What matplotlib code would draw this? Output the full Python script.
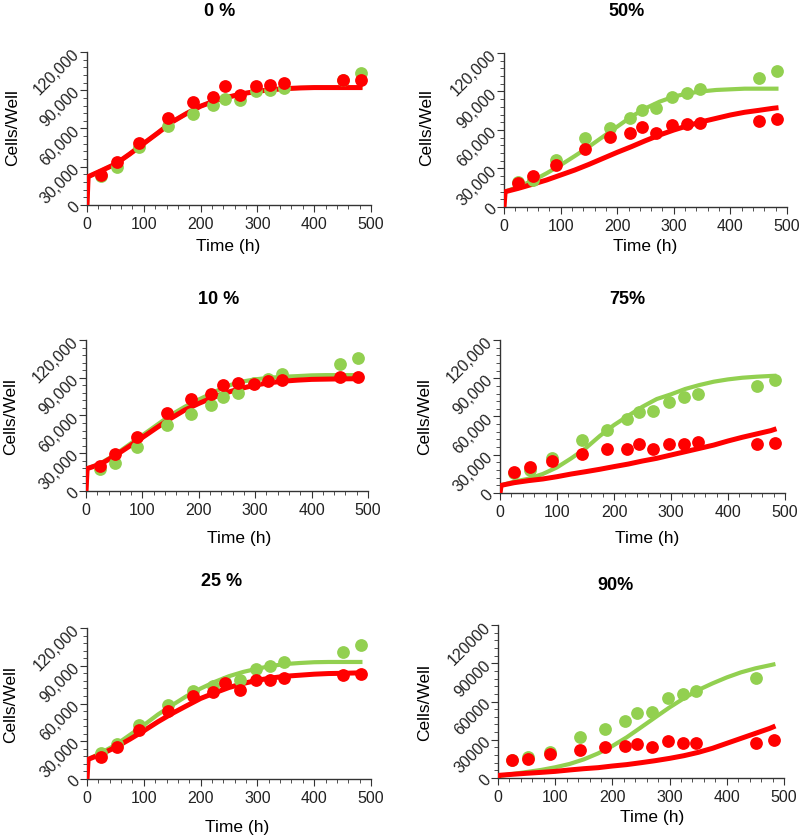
import numpy as np
import matplotlib
matplotlib.use("Agg")
import matplotlib.pyplot as plt
from matplotlib.ticker import MultipleLocator, FuncFormatter

plt.rcParams['font.family'] = ['Liberation Sans', 'DejaVu Sans']

# measurement times (h)
times = [24, 52, 91, 143, 187, 222, 243, 269, 297, 323, 347, 451, 482]
# model curve times (h)
fit_times = [0, 2, 25, 50, 75, 100, 125, 150, 175, 200, 225, 250, 275,
             300, 325, 350, 375, 400, 425, 450, 475, 485]

titles = ['0 %', '50%', '10 %', '75%', '25 %', '90%']

green_pts = {
    '0 %': [23000, 30000, 45500, 62000, 71000, 78500, 83500, 82000, 89500, 90500, 92000, 98000, 103500],
    '10 %': [17800, 22300, 35000, 52300, 61100, 68200, 74900, 77500, 86000, 88900, 92700, 100600, 105900],
    '25 %': [20900, 27500, 42800, 59200, 70000, 74000, 77000, 79000, 87700, 89600, 93000, 101000, 106200],
    '50%': [19600, 21000, 36500, 53500, 61800, 69700, 75700, 77000, 85600, 88700, 91800, 100400, 105700],
    '75%': [15700, 18300, 27400, 41200, 49600, 57900, 63400, 64400, 71700, 75100, 77500, 84000, 89000],
    '90%': [13800, 16200, 20100, 31800, 38600, 44900, 50900, 51700, 63100, 66000, 68400, 78800, np.nan],
}
red_pts = {
    '0 %': [23500, 33500, 49000, 68500, 80500, 84500, 93000, 86500, 93500, 94500, 95500, 98000, 98000],
    '10 %': [19600, 29200, 43000, 61600, 73500, 76700, 84200, 86000, 85000, 87300, 88100, 90300, 90800],
    '25 %': [17700, 25600, 38900, 54200, 65800, 69200, 76400, 71100, 78500, 79000, 80600, 82500, 83300],
    '50%': [18800, 24300, 33100, 44900, 54300, 57400, 62600, 57900, 63900, 64700, 65200, 67300, 68300],
    '75%': [16400, 20100, 25300, 30800, 34400, 34400, 38600, 34400, 38600, 38600, 39700, 38600, 39100],
    '90%': [14300, 15100, 18800, 22200, 24300, 25300, 26900, 24300, 28700, 27400, 27400, 27400, 30000],
}
green_fit = {
    '0 %': [0, 22200, 26900, 32100, 39900, 48300, 56600, 65200, 71700, 77500, 81700, 84800, 87400,
            89200, 90500, 91300, 91800, 92100, 92100, 92100, 92100, 92100],
    '10 %': [0, 17800, 21800, 28400, 36400, 44300, 52300, 60300, 66900, 72700, 78100, 83400, 86800,
             88700, 90000, 90800, 91300, 91900, 92100, 92100, 92100, 92100],
    '25 %': [0, 15600, 20900, 27000, 34900, 42800, 51300, 58700, 65800, 71900, 77200, 81700, 85100,
             87700, 89900, 91400, 92200, 92800, 93000, 93000, 93000, 93000],
    '50%': [0, 11900, 15800, 20300, 26200, 32700, 39700, 47000, 54800, 62600, 70400, 76900, 82100,
            86000, 88600, 90100, 91200, 91700, 92200, 92200, 92200, 92200],
    '75%': [0, 6000, 8900, 11200, 14900, 20100, 27200, 35000, 44700, 53300, 60600, 67700, 73700,
            77400, 81600, 84700, 87300, 89100, 90400, 91200, 91800, 92000],
    '90%': [0, 1600, 3100, 4700, 6300, 8400, 11000, 14600, 19300, 25100, 31900, 39700, 47600,
            55400, 62500, 69000, 74200, 78900, 82900, 86000, 88400, 89400],
}
red_fit = {
    '0 %': [0, 22200, 26900, 32100, 39900, 48300, 56600, 65200, 71700, 77500, 81700, 84800, 87400,
            89200, 90500, 91300, 91800, 92100, 92100, 92100, 92100, 92100],
    '10 %': [0, 17800, 21200, 27600, 35000, 42500, 50200, 57600, 64300, 69600, 74300, 78300, 81500,
             84200, 86000, 87300, 88100, 88700, 88900, 89100, 89200, 89200],
    '25 %': [0, 15600, 19800, 25100, 31500, 38300, 45500, 52100, 58100, 64000, 68500, 72700, 75900,
             78500, 80300, 81700, 82500, 83300, 83800, 84000, 84300, 84300],
    '50%': [0, 11900, 14500, 17700, 21000, 24900, 28800, 33200, 37900, 42600, 47000, 51700, 56100,
            60000, 63400, 66500, 69100, 71700, 73800, 75300, 76900, 77400],
    '75%': [0, 6000, 8100, 9700, 11000, 12800, 14900, 16700, 18600, 20700, 22700, 25100, 27200,
            29800, 32400, 35000, 37600, 40800, 43700, 46300, 48900, 50400],
    '90%': [0, 2100, 2900, 3700, 4400, 5200, 6300, 7300, 8100, 9400, 10500, 12000, 13600,
            15400, 17500, 20100, 23300, 27200, 31100, 35000, 38900, 40800],
}

GREEN = '#92D050'
RED = '#FF0000'
W, H = 800, 838

# pixel boxes of axes: left, top, right, bottom
boxes = {
    '0 %': (87, 52, 371, 205),
    '50%': (504, 53, 787, 207),
    '10 %': (86, 340, 368, 491),
    '75%': (500, 340, 785, 493),
    '25 %': (87, 628, 371, 779),
    '90%': (498, 625, 784, 778),
}
# title, xlabel, ylabel positions (pixels)
title_pos = {'0 %': (220, 12), '50%': (627, 12), '10 %': (219, 300),
             '75%': (627, 300), '25 %': (222, 582), '90%': (615, 585)}
xlab_pos = {'0 %': (228, 247), '50%': (645, 247), '10 %': (239, 538),
            '75%': (647, 538), '25 %': (237, 827), '90%': (652, 817)}
ylab_pos = {'0 %': (13, 128), '50%': (427, 128), '10 %': (11, 417),
            '75%': (425, 417), '25 %': (11, 705), '90%': (425, 703)}

fig = plt.figure(figsize=(W / 100, H / 100), dpi=100)

for name in titles:
    l, t, r, b = boxes[name]
    ax = fig.add_axes([l / W, 1 - b / H, (r - l) / W, (b - t) / H])

    ax.plot(fit_times, green_fit[name], color=GREEN, lw=3.0, zorder=2, solid_capstyle='butt')
    ax.plot(fit_times, red_fit[name], color=RED, lw=3.6, zorder=3, solid_capstyle='butt')
    ax.plot(times, green_pts[name], 'o', color=GREEN, ms=9.2, mec='none', zorder=4)
    ax.plot(times, red_pts[name], 'o', color=RED, ms=9.2, mec='none', zorder=5)

    ax.set_xlim(0, 500)
    ax.set_ylim(0, 120000)
    ax.xaxis.set_major_locator(MultipleLocator(100))
    ax.xaxis.set_minor_locator(MultipleLocator(20))
    ax.yaxis.set_major_locator(MultipleLocator(30000))
    ax.yaxis.set_minor_locator(MultipleLocator(6000))
    if name == '90%':
        ax.yaxis.set_major_formatter(FuncFormatter(lambda v, p: '%d' % v))
    else:
        ax.yaxis.set_major_formatter(FuncFormatter(lambda v, p: '{:,.0f}'.format(v)))

    for s in ['top', 'right']:
        ax.spines[s].set_visible(False)
    for s in ['left', 'bottom']:
        ax.spines[s].set_color('#333333')
        ax.spines[s].set_linewidth(1.0)

    ax.tick_params(axis='both', which='major', direction='out', length=5,
                   color='#333333', labelsize=11.5, labelcolor='#222222')
    ax.tick_params(axis='both', which='minor', direction='out', length=3, color='#333333')
    ax.tick_params(axis='y', which='major', pad=2)
    for lab in ax.get_yticklabels():
        lab.set_rotation(45)
        lab.set_rotation_mode('anchor')
        lab.set_ha('right')
        lab.set_va('center')

    tx, ty = title_pos[name]
    fig.text(tx / W, 1 - ty / H, name, ha='center', va='center',
             fontsize=13, fontweight='bold')
    xx, xy = xlab_pos[name]
    fig.text(xx / W, 1 - xy / H, 'Time (h)', ha='center', va='center', fontsize=12.5)
    yx, yy = ylab_pos[name]
    fig.text(yx / W, 1 - yy / H, 'Cells/Well', ha='center', va='center',
             rotation=90, fontsize=12.5)

fig.savefig('out.png', dpi=100)
